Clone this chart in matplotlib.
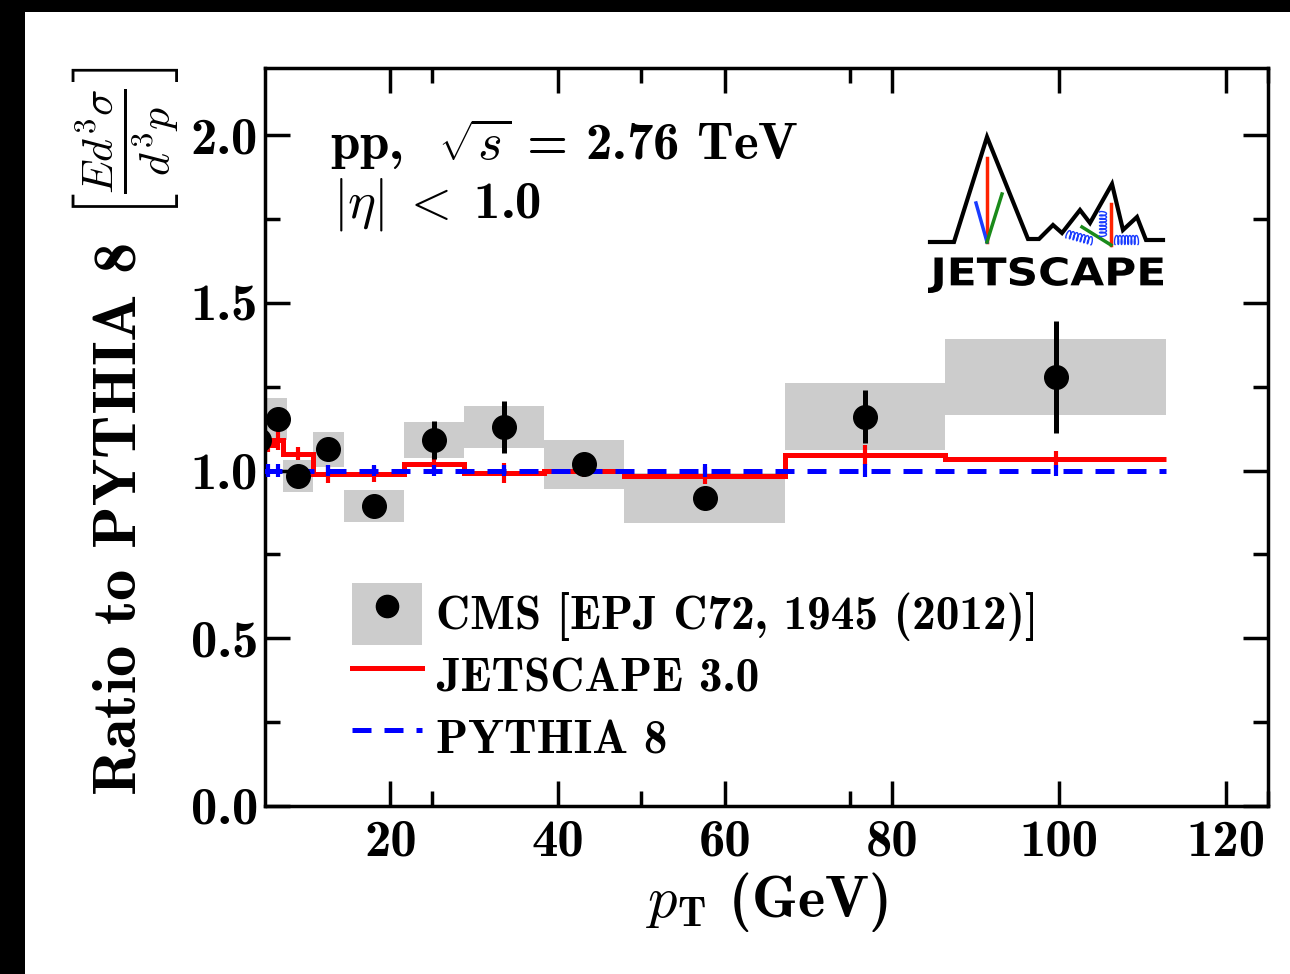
import numpy as np
import matplotlib
matplotlib.use('Agg')
import matplotlib.pyplot as plt
from matplotlib.patches import Rectangle, Patch, PathPatch
from matplotlib.lines import Line2D
from matplotlib.legend_handler import HandlerTuple
from matplotlib.textpath import TextPath
from matplotlib.font_manager import FontProperties
from matplotlib.ticker import MultipleLocator
from matplotlib.transforms import Affine2D

plt.rcParams['font.family'] = 'cmb10'
plt.rcParams['mathtext.fontset'] = 'cm'
plt.rcParams['axes.unicode_minus'] = False
plt.rcParams['axes.formatter.use_mathtext'] = False

# model bins (JETSCAPE / PYTHIA)
bin_edges = [4.8, 6.0, 7.2, 10.8, 14.4, 21.6, 28.8, 38.4, 48.0, 67.2, 86.4, 112.8]
bin_centers = [5.4, 6.6, 9.0, 12.6, 18.0, 25.2, 33.6, 43.2, 57.6, 76.8, 99.6]

jetscape = [1.075, 1.09, 1.05, 0.99, 0.99, 1.018, 0.992, 1.0, 0.985, 1.045, 1.033]
jetscape_err = [0.02, 0.03, 0.02, 0.027, 0.023, 0.025, 0.03, 0.02, 0.025, 0.03, 0.025]
pythia = [1.0, 1.0, 1.0, 1.0, 1.0, 1.0, 1.0, 1.0, 1.0, 1.0, 1.0]
pythia_err = [0.02, 0.02, 0.015, 0.015, 0.015, 0.015, 0.015, 0.015, 0.018, 0.018, 0.015]

# CMS data
cms_pt = [4.3, 6.6, 9.0, 12.6, 18.0, 25.2, 33.6, 43.2, 57.6, 76.8, 99.6]
cms_ratio = [1.09, 1.153, 0.984, 1.063, 0.894, 1.091, 1.129, 1.018, 0.919, 1.161, 1.279]
cms_stat = [0.03, 0.012, 0.012, 0.015, 0.02, 0.058, 0.077, 0.03, 0.03, 0.08, 0.168]
cms_sys = [0.06, 0.063, 0.048, 0.053, 0.048, 0.054, 0.062, 0.073, 0.074, 0.101, 0.112]
cms_lo = [3.6, 5.2, 7.2, 10.8, 14.4, 21.6, 28.8, 38.4, 48.0, 67.2, 86.4]
cms_hi = [5.0, 7.6, 10.8, 14.4, 21.6, 28.8, 38.4, 48.0, 67.2, 86.4, 112.8]

fig = plt.figure(figsize=(12.9, 9.74), dpi=100)
ax = fig.add_axes([0.2054, 0.1725, 0.7776, 0.7577])

# black frame on top and left edge of the picture
fig.add_artist(Rectangle((0, 1 - 12 / 974), 1, 12 / 974, transform=fig.transFigure,
                         facecolor='black', edgecolor='none'))
fig.add_artist(Rectangle((0, 0), 25 / 1290, 1, transform=fig.transFigure,
                         facecolor='black', edgecolor='none'))

ratio = np.array(cms_ratio)
sys = np.array(cms_sys)
ax.bar(cms_lo, 2 * sys, bottom=ratio - sys, width=np.array(cms_hi) - np.array(cms_lo),
       align='edge', color='#cccccc', linewidth=0, zorder=1)

ax.stairs(jetscape, bin_edges, baseline=None, color='red', lw=3.6, zorder=2)
ax.errorbar(bin_centers, jetscape, yerr=jetscape_err, fmt='none', ecolor='red',
            elinewidth=3, zorder=2)

dash = (0, (3.8, 2.6))
ax.stairs(pythia, bin_edges, baseline=None, color='blue', lw=3.6, linestyle=dash, zorder=3)
ax.errorbar(bin_centers, pythia, yerr=pythia_err, fmt='none', ecolor='blue',
            elinewidth=3, zorder=3)

ax.errorbar(cms_pt, cms_ratio, yerr=cms_stat, fmt='o', color='black', ms=17,
            elinewidth=3.6, capsize=0, zorder=4)

ax.set_xlim(5, 125)
ax.set_ylim(0, 2.2)
ax.xaxis.set_major_locator(MultipleLocator(20))
ax.xaxis.set_minor_locator(MultipleLocator(25))
ax.yaxis.set_major_locator(MultipleLocator(0.5))
ax.yaxis.set_minor_locator(MultipleLocator(0.25))
ax.tick_params(which='both', direction='in', top=True, right=True, width=2.5)
ax.tick_params(which='major', length=18, labelsize=38)
ax.tick_params(which='minor', length=11)
ax.tick_params(axis='x', pad=10)
ax.tick_params(axis='y', pad=5)
for s in ax.spines.values():
    s.set_linewidth(2.5)

ax.set_xlabel(r"$p_\mathbf{T}$ (GeV)", fontsize=42, labelpad=3)
ax.set_ylabel(r"Ratio to PYTHIA 8 $\left[\frac{Ed^3\sigma}{d^3p}\right]$", fontsize=45)
ax.yaxis.set_label_coords(-0.084, 0.508)

ax.text(0.065, 0.875, r"pp,  $\sqrt{s}$ = 2.76 TeV", transform=ax.transAxes,
        fontsize=38, va='baseline')
ax.text(0.068, 0.797, r"$|\eta|\;<\;$1.0", transform=ax.transAxes,
        fontsize=38, va='baseline')

cms_handle = (Patch(facecolor='#cccccc', edgecolor='none'),
              Line2D([], [], marker='o', color='black', ms=16, linestyle='none'))
js_handle = Line2D([], [], color='red', lw=3.6)
py_handle = Line2D([], [], color='blue', lw=3.6, linestyle=dash)
ax.legend([cms_handle, js_handle, py_handle],
          ["CMS [EPJ C72, 1945 (2012)]", "JETSCAPE 3.0", "PYTHIA 8"],
          handler_map={tuple: HandlerTuple(ndivide=1)},
          loc='upper left', bbox_to_anchor=(0.087, 0.302), frameon=False,
          fontsize=34, handlelength=1.48, handleheight=1.64, handletextpad=0.3,
          labelspacing=0.0, borderpad=0, borderaxespad=0)

# JETSCAPE logo, drawn in pixel-like coordinates of its own axes
lg = fig.add_axes([925 / 1290, 1 - 300 / 974, 245 / 1290, 170 / 974])
lg.set_xlim(925, 1170)
lg.set_ylim(300, 130)
lg.axis('off')
mx = [930, 954, 987, 1028, 1039, 1053, 1062, 1080, 1090, 1112, 1123, 1137, 1146, 1163]
my = [242, 242, 137, 239, 239, 225, 233, 210, 223, 184, 230, 217, 240, 240]
lg.plot(mx, my, color='black', lw=3, solid_joinstyle='miter')
lg.plot([987, 987], [158, 242], color='#ff2200', lw=2.5)
lg.plot([976, 987], [203, 242], color='#1a3cff', lw=2.5)
lg.plot([1002, 987], [194, 242], color='#1a8a1a', lw=2.5)
lg.plot([1111, 1111], [204, 245], color='#ff2200', lw=2.5)
lg.plot([1082, 1111], [227, 245], color='#1a8a1a', lw=2.5)


def coil(p0, p1, n, amp):
    p0 = np.array(p0, float)
    p1 = np.array(p1, float)
    d = p1 - p0
    L = np.hypot(*d)
    u = d / L
    v = np.array([-u[1], u[0]])
    t = np.linspace(0, 1, 200)
    along = L * t - 1.2 * np.sin(2 * np.pi * n * t)
    perp = amp * np.cos(2 * np.pi * n * t)
    pts = p0[None, :] + along[:, None] * u[None, :] + perp[:, None] * v[None, :]
    lg.plot(pts[:, 0], pts[:, 1], color='#1a3cff', lw=1)


coil((1067, 234), (1092, 241), 7, 4)
coil((1103, 212), (1103, 236), 7, 3.5)
coil((1115, 240), (1138, 240), 7, 4.5)

tp = TextPath((0, 0), "JETSCAPE", size=1, prop=FontProperties(family='DejaVu Sans', weight='bold'))
ext = tp.get_extents()
sx = (1163 - 928) / ext.width
sy = (293 - 257) / ext.height
tr = Affine2D().translate(-ext.x0, -ext.y0).scale(sx, -sy).translate(928, 293)
lg.add_patch(PathPatch(tr.transform_path(tp), facecolor='black', edgecolor='none'))

fig.savefig('out.png', dpi=100)
